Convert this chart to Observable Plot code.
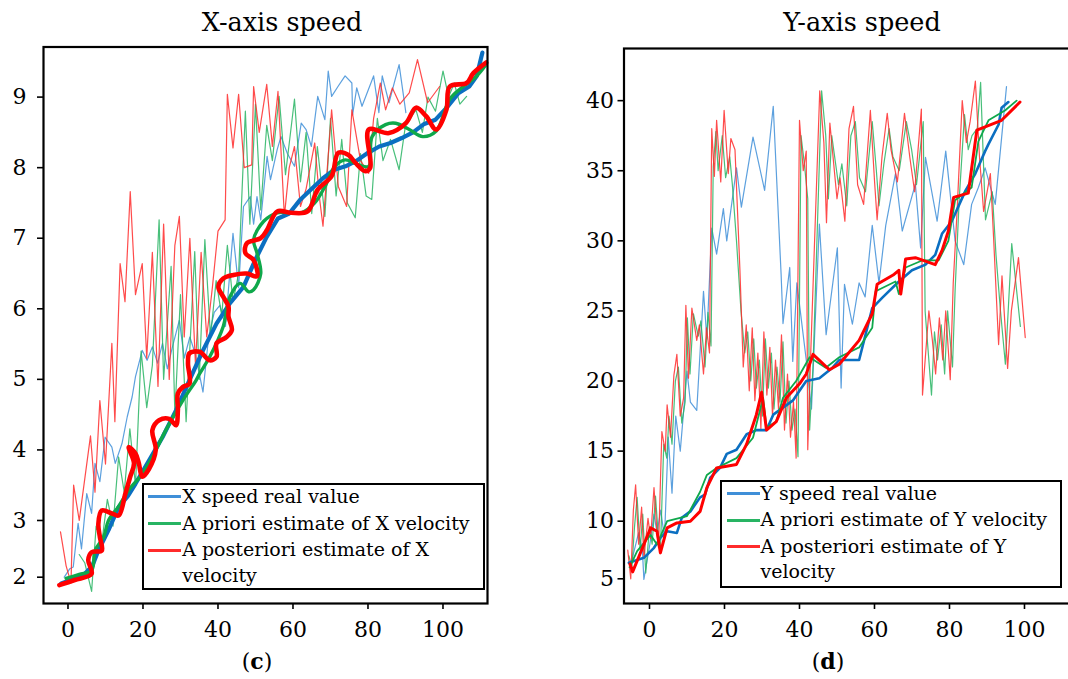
<!DOCTYPE html>
<html>
<head>
<meta charset="utf-8">
<script src="https://cdn.jsdelivr.net/npm/d3@7"></script>
<script src="https://cdn.jsdelivr.net/npm/@observablehq/plot@0.6"></script>
<style>
html, body { margin: 0; padding: 0; background: #fff; overflow: hidden; width: 1068px; height: 679px; }
#root { position: relative; width: 1068px; height: 679px; overflow: hidden; font-family: "DejaVu Serif", serif; color: #000; }
.txt { position: absolute; white-space: nowrap; line-height: 1; }
.box { position: absolute; border: 2px solid #000; background: #fff; box-sizing: border-box; }
.swatch { position: absolute; height: 3px; }
</style>
</head>
<body>
<div id="root"></div>
<script>
// ---------- Panel (c): X-axis speed ----------
const leftTitle = "X-axis speed";
const leftCaption = "c";
const leftXTicks = [0, 20, 40, 60, 80, 100];
const leftYTicks = [2, 3, 4, 5, 6, 7, 8, 9];
const leftLegend = ["X speed real value", "A priori estimate of X velocity", "A posteriori estimate of X", "velocity"];

const lBlueThickX = [-1.8, 2, 4.5, 6.5, 8.1, 10.8, 13.5, 16, 18, 21.6, 25.2, 28.8, 32.4, 36, 39.6, 43.2, 46.8, 50, 53, 56, 59, 62, 65, 68, 71, 74, 77, 80, 83, 86, 89, 92, 95, 98, 101, 104, 107, 109, 110.5];
const lBlueThickY = [1.89, 1.98, 2.06, 2.2, 2.47, 2.83, 3.19, 3.35, 3.52, 3.85, 4.18, 4.56, 4.99, 5.41, 5.79, 6.08, 6.31, 6.7, 7.02, 7.28, 7.35, 7.55, 7.7, 7.85, 7.97, 8.02, 8.1, 8.21, 8.3, 8.35, 8.42, 8.5, 8.62, 8.68, 8.85, 9.05, 9.15, 9.3, 9.63];

const lGreenThickX = [-0.5, 3, 6.3, 7.2, 9.5, 10.8, 13.5, 16.2, 19.8, 22.5, 26.1, 30.6, 34.2, 35.1, 37.8, 41.4, 43.2, 45.9, 48.2, 49.5, 51.4, 50.4, 49.5, 52.2, 55.8, 62.2, 65.8, 68.5, 71.2, 73.9, 77.5, 80.2, 81.1, 84.7, 87.4, 91, 94.6, 98.2, 101.8, 105.4, 109, 111.2];
const lGreenThickY = [1.98, 2.05, 2.12, 2.47, 2.71, 3.0, 3.2, 3.43, 3.66, 3.9, 4.28, 4.7, 4.99, 5.08, 5.32, 5.75, 6.17, 6.36, 6.24, 6.27, 6.5, 6.79, 6.98, 7.24, 7.36, 7.36, 7.5, 7.73, 8.02, 8.11, 8.04, 8.02, 8.44, 8.61, 8.63, 8.54, 8.44, 8.52, 8.97, 9.15, 9.3, 9.44];

const lRedThickX = [-2.3, 1.8, 6.3, 5.4, 6.3, 9.0, 8.5, 8.1, 9.0, 11.7, 13.5, 15.3, 16.6, 17.6, 16.2, 18.0, 18.9, 19.8, 21.6, 23.4, 22.5, 24.3, 27.0, 28.8, 29.3, 29.3, 30.6, 32.4, 32.0, 32.4, 35.1, 37.8, 39.6, 39.6, 42.3, 43.7, 42.8, 42.8, 41.4, 40.1, 41.4, 44.1, 47.7, 50.4, 49.5, 47.3, 47.7, 51.4, 53.1, 55.8, 59.5, 63.9, 66.6, 70.3, 72.1, 74.8, 76.6, 79.3, 80.6, 80.2, 85.6, 90.1, 92.8, 95.5, 98.2, 100.9, 101.8, 106.3, 108.1, 111.5];
const lRedThickY = [1.86, 1.95, 2.06, 2.30, 2.44, 2.47, 2.71, 2.94, 3.14, 3.10, 3.07, 3.38, 3.62, 3.81, 4.04, 3.95, 3.81, 3.62, 3.73, 4.0, 4.28, 4.42, 4.44, 4.35, 4.56, 4.80, 4.89, 4.94, 5.23, 5.37, 5.39, 5.27, 5.32, 5.51, 5.60, 5.70, 5.89, 6.03, 6.17, 6.31, 6.43, 6.48, 6.50, 6.46, 6.69, 6.79, 6.93, 7.0, 7.12, 7.38, 7.36, 7.38, 7.69, 7.88, 8.21, 8.18, 8.07, 7.95, 8.0, 8.54, 8.49, 8.63, 8.85, 8.73, 8.54, 8.82, 9.15, 9.2, 9.34, 9.49];

const lBlueThinX = [-1, 0.5, 1.4, 2.7, 3.6, 5, 6.3, 7.2, 8.5, 9.9, 11.7, 12.6, 14.4, 15.8, 17.1, 18, 19.8, 21.1, 22.5, 23.9, 25.2, 26.5, 27.8, 29.7, 31, 32.5, 34, 36, 37.5, 39, 40.5, 42, 44, 45.5, 46.8, 48.6, 49.5, 50.4, 51.4, 53.1, 54, 55.8, 56.8, 58.5, 60.4, 62.2, 63.5, 64.9, 66.6, 68.5, 69.4, 70.3, 72, 73.9, 75.7, 75.9, 77, 78.4, 81.5, 82.9, 83.8, 85.6, 88.3, 90.1];
const lBlueThinY = [2.0, 2.15, 2.18, 2.95, 2.5, 3.38, 3.1, 3.81, 3.55, 4.18, 4.04, 3.81, 4.09, 4.47, 4.75, 5.04, 5.41, 5.27, 5.46, 5.23, 5.51, 5.15, 5.45, 5.84, 5.3, 5.6, 5.35, 4.82, 5.6, 5.95, 6.05, 5.75, 7.07, 6.3, 7.45, 7.59, 7.2, 7.59, 7.26, 8.16, 7.83, 8.26, 8.44, 8.2, 8.02, 8.63, 8.54, 8.30, 9.01, 8.68, 9.37, 9.01, 9.15, 9.30, 9.20, 8.75, 9.13, 8.87, 9.30, 8.78, 9.30, 8.92, 9.46, 8.78];

const lGreenThinX = [3, 4.5, 6.3, 7.5, 9, 10.5, 12, 13.5, 15, 16.5, 18, 19.5, 21, 22.5, 24.3, 25.5, 27.5, 28.5, 30, 31.5, 33.8, 35, 36.5, 38, 39.5, 41, 42.5, 44, 45.5, 47.3, 48.5, 50, 51.4, 53, 54.5, 56.3, 58, 60.4, 62, 63.5, 65, 66.5, 68.5, 70, 71.5, 73, 74.5, 76.6, 78, 79.5, 81, 82.5, 84, 86, 88.3, 90, 92.8, 94.5, 96, 98, 100, 101.5, 103, 104.5, 106.3];
const lGreenThinY = [2.4, 2.25, 1.75, 2.9, 2.6, 3.3, 2.9, 3.9, 3.4, 4.3, 3.5, 5.4, 4.6, 5.2, 7.26, 5.0, 6.6, 4.5, 6.2, 4.4, 6.81, 5.0, 6.98, 5.6, 6.4, 5.9, 6.9, 6.1, 6.5, 8.80, 7.2, 8.90, 7.4, 8.6, 8.1, 9.01, 7.9, 8.97, 7.8, 8.5, 7.35, 8.3, 7.31, 8.7, 7.6, 8.4, 7.5, 7.29, 8.2, 7.6, 7.55, 8.7, 8.1, 8.4, 7.97, 8.6, 8.82, 8.5, 9.0, 8.8, 9.37, 9.0, 9.2, 8.9, 9.01];

const lRedThinX = [-2, -0.5, 0.8, 1.5, 3, 4.5, 6, 7.2, 8.5, 10, 11.7, 12.5, 13.9, 15.2, 16.6, 18, 19.8, 21, 22.5, 24, 25.5, 27, 28.5, 29.7, 31, 32.5, 34, 35.5, 37, 38.5, 40, 41.9, 42.5, 44, 45.5, 47, 49, 49.5, 51, 53, 54.5, 56, 57.7, 59, 60.4, 62, 63.5, 65.8, 67, 68, 70.3, 72.1, 74.3, 75.7, 78, 80.2, 81.5, 83.3, 84.7, 86.5, 88.5, 91, 93.2, 95.9, 99.1];
const lRedThinY = [2.8, 2.2, 1.9, 3.5, 3.0, 3.6, 4.2, 3.4, 4.7, 3.8, 5.51, 4.4, 6.64, 6.1, 7.66, 6.2, 6.64, 5.3, 6.8, 4.9, 7.2, 5.0, 6.9, 7.31, 5.6, 7.0, 5.2, 6.8, 5.6, 6.3, 7.1, 7.26, 9.04, 8.28, 9.04, 8.0, 8.04, 9.15, 8.5, 9.18, 8.30, 9.08, 7.31, 8.0, 8.30, 7.45, 7.7, 8.35, 7.6, 7.17, 8.82, 7.73, 7.45, 8.82, 8.1, 7.92, 8.7, 9.2, 8.82, 9.13, 8.9, 9.06, 9.53, 8.92, 9.15];

// ---------- Panel (d): Y-axis speed ----------
const rightTitle = "Y-axis speed";
const rightCaption = "d";
const rightXTicks = [0, 20, 40, 60, 80, 100];
const rightYTicks = [5, 10, 15, 20, 25, 30, 35, 40];
const rightLegend = ["Y speed real value", "A priori estimate of Y velocity", "A posteriori estimate of Y", "velocity"];

const rBlueThickX = [-5.5, -1.5, 1.2, 3.0, 4.7, 7.3, 8.6, 10.9, 13.5, 14.8, 16.2, 18.8, 20.6, 23.2, 25.9, 28.5, 31.2, 33, 35.6, 38.2, 40, 41.8, 45.3, 48.8, 50.6, 55.9, 59.4, 62.1, 66.5, 70, 73.6, 76.2, 78, 80.6, 84.3, 86.9, 89.5, 90.4, 93.1, 93.9, 95.7];
const rBlueThickY = [6.39, 6.82, 7.69, 8.6, 9.13, 8.98, 10.24, 10.7, 11.7, 11.9, 13.1, 13.8, 14.8, 15.1, 16.2, 16.5, 16.5, 17.6, 18.1, 18.6, 19.3, 20, 20.2, 20.95, 21.5, 21.5, 25.2, 25.95, 27.1, 27.9, 28.3, 29.0, 30.5, 31.4, 33.6, 34.8, 36.4, 36.9, 38.3, 39.5, 39.9];

const rGreenThickX = [-5.3, -3.3, 0.3, 2.0, 4.7, 10, 13.5, 15.3, 17.9, 23.2, 27.6, 30.3, 31.2, 33.8, 35.6, 39.1, 42.7, 47, 50.6, 55.9, 59.4, 60.3, 65.6, 66.5, 68.3, 72.7, 77.1, 79.7, 81.5, 85.9, 87.7, 90.4, 94.8, 97.9];
const rGreenThickY = [6.0, 7.4, 8.8, 7.98, 10.0, 10.36, 12.1, 13.3, 13.8, 14.5, 15.95, 18.8, 16.7, 17.1, 18.8, 20, 21.7, 20.95, 21.7, 22.4, 23.8, 26.4, 27.1, 26.2, 28.1, 28.6, 28.6, 30, 32.9, 33.8, 37.1, 38.6, 39.3, 40.0];

const rRedThickX = [-5.2, -4.5, -1.5, 0.3, 2.0, 2.9, 4.7, 7.3, 10.9, 13.5, 15.3, 17.9, 23.2, 25.9, 28.5, 29.9, 31.2, 33.8, 36.5, 40, 41.8, 43.6, 48, 50.6, 55.9, 59.4, 60.7, 65.2, 66.5, 67, 68.3, 70.9, 76.2, 78, 79.7, 81.1, 85, 87.3, 93.9, 98.8];
const rRedThickY = [6.3, 5.6, 7.98, 9.42, 9.13, 7.25, 9.42, 9.85, 10, 10.7, 12.4, 13.8, 14.05, 15.5, 17.6, 19.2, 16.5, 17.1, 18.8, 19.8, 20.5, 21.9, 20.8, 21.2, 22.9, 24.8, 26.9, 27.6, 27.9, 26.2, 28.7, 28.8, 28.3, 29.3, 30.7, 33.1, 33.4, 37.9, 38.6, 39.9];

const rBlueThinX = [-4.8, -2.9, -1.9, -1.5, 0.1, 1.2, 2.0, 3.0, 4.0, 5.0, 6.0, 7.0, 8.2, 10.0, 10.9, 12.6, 13.5, 14.4, 15.3, 16.6, 17.9, 19.7, 20.6, 23.2, 24.5, 27.6, 30.7, 33, 35.1, 35.6, 37.4, 38.2, 39.3, 41.8, 43.2, 45.3, 47.1, 50.1, 51.1, 52, 54.1, 55.9, 57.5, 59.4, 61.2, 63, 65.6, 67.4, 70.9, 72.3, 73.6, 76.7, 79, 81.5, 83.8, 85.9, 87.7, 89.5, 92.2, 95.2];
const rBlueThinY = [6.5, 9, 7.5, 4.95, 8, 10.5, 9, 10.8, 8.5, 16, 12, 17.5, 15, 20.7, 18.5, 17.9, 22.1, 26.4, 23, 30.9, 29.05, 32.3, 30, 35.2, 32.4, 37.4, 33.6, 39.6, 27.6, 24.1, 28.1, 21.4, 27, 21.5, 18, 31.2, 23.3, 29.5, 19.5, 26.9, 24.05, 27, 26, 31.1, 27, 31.1, 34.8, 30.7, 34.05, 29.5, 35.95, 31.4, 36.4, 30, 28.3, 32.6, 33.8, 35.2, 32.6, 41];

const rGreenThinX = [-5.5, -4.7, -4.0, -3.3, -2.5, -1.8, -1.0, 0.0, 0.7, 1.6, 2.4, 2.9, 3.8, 4.6, 5.2, 6.0, 6.9, 7.7, 8.6, 9.5, 10.1, 10.8, 11.7, 13.0, 13.7, 14.8, 15.6, 16.4, 17.0, 17.7, 18.3, 19.4, 20.3, 21.4, 22.1, 23.2, 24.4, 25.4, 26.2, 27.0, 27.8, 28.5, 29.3, 30.1, 30.9, 31.7, 32.5, 33.2, 34.0, 34.8, 35.6, 36.4, 37.2, 38.0, 38.8, 39.6, 40.4, 41.3, 42.2, 42.7, 43.6, 45.9, 47.0, 47.7, 48.6, 50.4, 51.3, 52.6, 53.7, 54.9, 56.0, 57.6, 59.4, 60.5, 61.2, 62.5, 63.9, 64.9, 66.6, 68.5, 69.9, 71.2, 73.0, 73.5, 75.2, 76.0, 76.8, 77.8, 78.7, 79.5, 80.8, 81.5, 82.6, 84.0, 85.0, 86.0, 87.4, 88.3, 89.6, 91.4, 92.4, 93.6, 94.9, 96.6, 98.9];
const rGreenThinY = [7.0, 6.0, 9.5, 11.7, 7.5, 10.5, 5.5, 9.5, 8.0, 11.8, 8.5, 7.4, 15.5, 14.5, 17.5, 15.5, 20.0, 21.0, 17.0, 18.5, 24.5, 20.5, 24.8, 23.2, 24.3, 21.0, 24.9, 22.5, 35.3, 37.8, 35.0, 37.5, 34.5, 36.0, 34.0, 30.0, 25.0, 22.0, 23.5, 20.0, 23.0, 19.5, 21.5, 17.5, 23.0, 19.5, 22.0, 18.0, 21.0, 18.5, 22.8, 17.0, 20.0, 16.5, 18.0, 14.6, 37.5, 35.5, 33.0, 16.5, 21.0, 40.7, 37.5, 33.0, 37.5, 34.0, 35.5, 32.5, 37.5, 38.5, 34.5, 33.5, 38.5, 35.0, 32.5, 35.5, 38.0, 36.0, 35.0, 38.5, 36.5, 34.0, 38.5, 25.0, 19.0, 23.5, 21.5, 24.0, 20.5, 25.0, 21.0, 26.5, 33.0, 39.0, 36.5, 37.5, 38.0, 41.3, 31.5, 33.5, 29.0, 25.0, 21.2, 29.8, 23.9];

const rRedThinX = [-5.8, -5.0, -4.3, -3.7, -2.9, -2.1, -1.5, -0.4, 0.3, 1.2, 2.0, 2.4, 3.3, 4.2, 4.7, 5.6, 6.5, 7.3, 8.2, 9.1, 9.7, 10.4, 11.3, 12.6, 13.3, 14.4, 15.2, 16.0, 16.6, 17.3, 17.9, 19.0, 19.9, 21.0, 21.7, 22.8, 24.1, 25.0, 25.8, 26.6, 27.4, 28.1, 28.9, 29.7, 30.5, 31.3, 32.1, 32.8, 33.6, 34.4, 35.2, 36.0, 36.8, 37.6, 38.4, 39.1, 40.0, 41.0, 41.8, 42.2, 43.0, 45.4, 46.5, 47.2, 48.1, 50.0, 50.8, 52.1, 53.2, 54.4, 55.5, 57.1, 58.9, 60.0, 60.7, 62.0, 63.4, 64.4, 66.1, 68.0, 69.4, 70.7, 72.5, 72.8, 74.5, 75.4, 76.3, 77.3, 78.2, 79.0, 80.2, 81.0, 82.0, 83.4, 84.5, 85.5, 86.9, 88.0, 89.1, 90.9, 91.8, 93.1, 94.0, 95.5, 96.5, 98.4, 100.2];
const rRedThinY = [7.5, 5.0, 10.8, 12.6, 8.0, 11.0, 6.8, 10.2, 8.5, 12.4, 9.0, 7.7, 16.4, 15.0, 18.3, 16.0, 20.4, 21.9, 17.5, 18.8, 25.4, 20.2, 25.2, 22.9, 24.0, 20.5, 23.8, 22.0, 38.0, 34.6, 38.6, 34.2, 39.3, 34.8, 37.3, 36.5, 28.0, 21.0, 24.0, 19.3, 23.8, 18.6, 22.0, 16.6, 23.5, 19.0, 22.4, 17.5, 21.5, 18.0, 23.3, 16.5, 20.5, 16.0, 18.5, 14.5, 38.6, 35.0, 36.4, 15.1, 22.0, 40.7, 37.0, 31.3, 38.4, 33.0, 34.5, 31.4, 38.0, 39.6, 34.0, 32.6, 39.3, 34.3, 31.5, 36.0, 39.1, 36.5, 34.2, 39.1, 36.0, 33.5, 39.4, 19.0, 25.0, 23.0, 20.5, 24.5, 21.5, 25.0, 20.1, 27.0, 32.0, 40.0, 37.0, 38.5, 41.4, 36.0, 32.1, 34.8, 30.0, 22.6, 27.5, 20.9, 25.0, 28.8, 23.1];

// ---------- helpers ----------
const C = {
  blueThick: "#0b6fc1", greenThick: "#0fa84b", redThick: "#ff0000",
  blueThin: "#3f8fd8", greenThin: "#28b463", redThin: "#ff2b2b"
};
function pts(xs, ys) {
  const n = Math.min(xs.length, ys.length);
  return xs.slice(0, n).map((x, i) => ({x, y: ys[i]}));
}
const root = document.getElementById("root");

function text(str, x, baseline, fs, opts = {}) {
  const d = document.createElement("div");
  d.className = "txt";
  d.style.fontSize = fs + "px";
  d.style.left = x + "px";
  d.style.top = (baseline - 0.846 * fs) + "px";
  if (opts.center) d.style.transform = "translateX(-50%)";
  if (opts.html) d.innerHTML = str; else d.textContent = str;
  root.appendChild(d);
  return d;
}

// the source figure's y axis is compressed below its second-lowest tick
function squeeze(knee, ratio) {
  return v => (v >= knee ? v : knee - (knee - v) * ratio);
}

function panel(cfg) {
  const svg = Plot.plot({
    width: cfg.width, height: 679,
    marginLeft: cfg.mL, marginRight: cfg.mR, marginTop: cfg.mT, marginBottom: 679 - 603,
    style: {background: "transparent", fontFamily: "DejaVu Serif, serif", fontSize: "22px", color: "#000", overflow: "visible"},
    x: {domain: cfg.xDomain},
    y: {domain: cfg.yDomain, transform: cfg.yTransform},
    marks: [
      Plot.line(cfg.blueThin, {x: "x", y: "y", stroke: C.blueThin, strokeWidth: 1.2, strokeOpacity: 0.85}),
      Plot.line(cfg.greenThin, {x: "x", y: "y", stroke: C.greenThin, strokeWidth: 1.2, strokeOpacity: 0.85}),
      Plot.line(cfg.redThin, {x: "x", y: "y", stroke: C.redThin, strokeWidth: 1.2, strokeOpacity: 0.85}),
      Plot.line(cfg.blueThick, {x: "x", y: "y", stroke: C.blueThick, strokeWidth: cfg.thickW, strokeLinejoin: "round"}),
      Plot.line(cfg.greenThick, {x: "x", y: "y", stroke: C.greenThick, strokeWidth: cfg.thickW - 0.8, strokeLinejoin: "round", curve: cfg.smooth}),
      Plot.line(cfg.redThick, {x: "x", y: "y", stroke: C.redThick, strokeWidth: cfg.thickW + 0.4, strokeLinejoin: "round", curve: cfg.smooth}),
      Plot.frame({stroke: "#000", strokeWidth: 2.2}),
      Plot.axisX(cfg.xTicks, {tickSize: 6, tickPadding: 12, strokeWidth: 1.6, label: null, fontSize: 22, tickFormat: d => String(d)}),
      Plot.axisY(cfg.yTicks, {tickSize: 6, tickPadding: cfg.yPad, strokeWidth: 1.6, label: null, fontSize: 22, tickFormat: d => String(d)})
    ]
  });
  svg.style.position = "absolute";
  svg.style.left = cfg.left + "px";
  svg.style.top = "0px";
  svg.style.maxWidth = "none";
  root.appendChild(svg);
}

function legend(cfg) {
  const b = document.createElement("div");
  b.className = "box";
  b.style.left = cfg.left + "px"; b.style.top = cfg.top + "px";
  b.style.width = cfg.w + "px"; b.style.height = cfg.h + "px";
  root.appendChild(b);
  const cols = [C.blueThin, C.greenThin, C.redThin];
  cfg.labels.forEach((lab, i) => {
    const base = cfg.baselines[i];
    if (i < 3) {
      const s = document.createElement("div");
      s.className = "swatch";
      s.style.left = Math.round(cfg.left + 6.5) + "px";
      s.style.width = "33px";
      s.style.top = Math.round(base - 8) + "px";
      s.style.background = cols[i];
      root.appendChild(s);
    }
    text(lab, cfg.left + 40.5, base, 19);
  });
}

// ---------- draw ----------
panel({
  left: 0, width: 534, mL: 43, mR: 47, mT: 46.5,
  xDomain: [-6.53, 111.87],
  yTransform: squeeze(3, 56.7 / 70.55), yDomain: [1.8235, 9.71],
  xTicks: leftXTicks, yTicks: leftYTicks, yPad: 11, thickW: 4.2, smooth: "catmull-rom",
  blueThin: pts(lBlueThinX, lBlueThinY), greenThin: pts(lGreenThinX, lGreenThinY), redThin: pts(lRedThinX, lRedThinY),
  blueThick: pts(lBlueThickX, lBlueThickY), greenThick: pts(lGreenThickX, lGreenThickY), redThick: pts(lRedThickX, lRedThickY)
});
panel({
  left: 534, width: 545, mL: 89.5, mR: 0, mT: 48,
  xDomain: [-6.8, 114.67],
  yTransform: squeeze(10, 11.52 / 14.02), yDomain: [4.13, 43.72],
  xTicks: rightXTicks, yTicks: rightYTicks, yPad: 4, thickW: 2.6, smooth: "linear",
  blueThin: pts(rBlueThinX, rBlueThinY), greenThin: pts(rGreenThinX, rGreenThinY), redThin: pts(rRedThinX, rRedThinY),
  blueThick: pts(rBlueThickX, rBlueThickY), greenThick: pts(rGreenThickX, rGreenThickY), redThick: pts(rRedThickX, rRedThickY)
});

legend({left: 141.7, top: 483.3, w: 343.3, h: 106.7, labels: leftLegend, baselines: [503.3, 529.8, 556.5, 582]});
legend({left: 720, top: 480, w: 341.7, h: 108.3, labels: rightLegend, baselines: [499.8, 526.5, 553, 578.5]});

text(leftTitle, 282, 32, 25.5, {center: true});
text(rightTitle, 862, 32, 25.5, {center: true});
text("(<b>" + leftCaption + "</b>)", 257, 669, 22, {center: true, html: true});
text("(<b>" + rightCaption + "</b>)", 828, 669, 22, {center: true, html: true});
</script>
</body>
</html>
